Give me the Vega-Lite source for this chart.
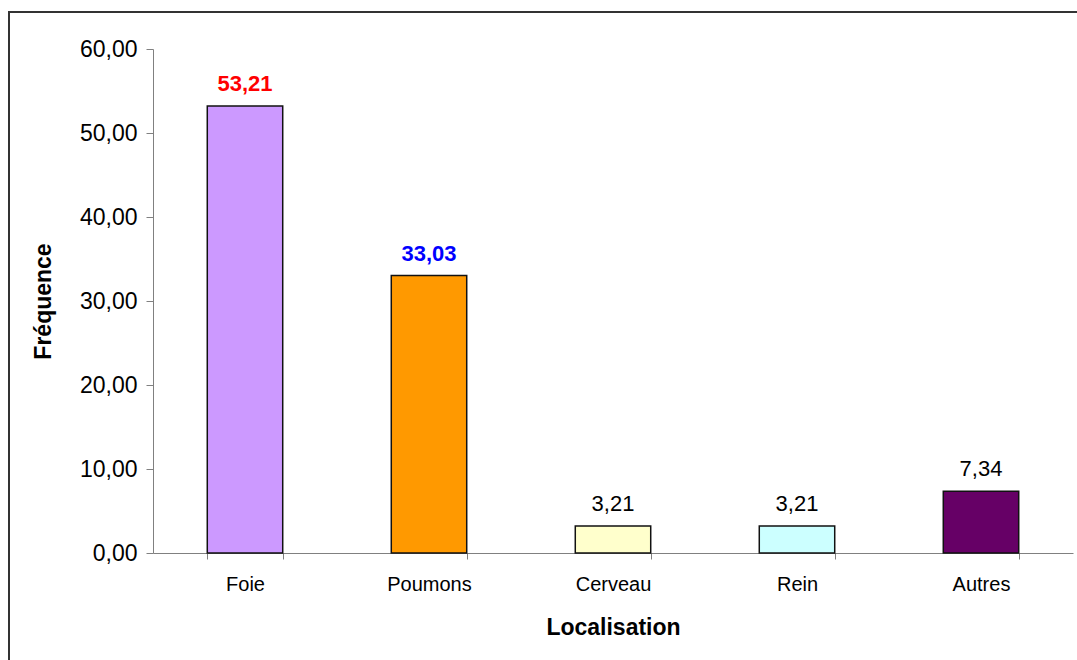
{
  "$schema": "https://vega.github.io/schema/vega-lite/v6.json",
  "autosize": {"type": "none"},
  "padding": {"left": 9, "top": 12, "right": 0, "bottom": 0},
  "width": 1075,
  "height": 655,
  "background": "white",
  "config": {
    "locale": {"number": {"decimal": ",", "thousands": " ", "grouping": [3], "currency": ["", " €"]}},
    "view": {"stroke": "#333333", "strokeWidth": 2},
    "font": "Liberation Sans"
  },
  "data": {
    "values": [
      {"loc": "Foie", "freq": 53.21},
      {"loc": "Poumons", "freq": 33.03},
      {"loc": "Cerveau", "freq": 3.21},
      {"loc": "Rein", "freq": 3.21},
      {"loc": "Autres", "freq": 7.34}
    ]
  },
  "encoding": {
    "x": {
      "field": "loc",
      "type": "nominal",
      "sort": null,
      "scale": {"type": "band", "range": [144, 1064], "paddingInner": 0.59, "paddingOuter": 0.295},
      "axis": {
        "title": "Localisation",
        "orient": "bottom",
        "offset": -114,
        "labelAngle": 0,
        "tickBand": "extent",
        "tickSize": 6,
        "tickColor": "#808080",
        "domainColor": "#808080",
        "labelFont": "Liberation Sans",
        "labelFontSize": 20,
        "labelColor": "#000000",
        "labelPadding": 15,
        "titleFont": "Liberation Sans",
        "titleFontSize": 23,
        "titleFontWeight": "bold",
        "titleColor": "#000000",
        "titlePadding": 22
      }
    },
    "y": {
      "field": "freq",
      "type": "quantitative",
      "scale": {"domain": [0, 60], "range": [541, 37], "nice": false},
      "axis": {
        "title": "Fréquence",
        "orient": "left",
        "offset": -144,
        "values": [0, 10, 20, 30, 40, 50, 60],
        "format": ".2f",
        "grid": false,
        "tickSize": 7,
        "tickColor": "#808080",
        "domainColor": "#808080",
        "labelFont": "Liberation Sans",
        "labelFontSize": 23,
        "labelColor": "#000000",
        "labelPadding": 9,
        "titleFont": "Liberation Sans",
        "titleFontSize": 23,
        "titleFontWeight": "bold",
        "titleColor": "#000000",
        "titlePadding": 24
      }
    }
  },
  "layer": [
    {
      "mark": {"type": "bar", "stroke": "#111111", "strokeWidth": 1.5},
      "encoding": {
        "color": {
          "field": "loc",
          "type": "nominal",
          "scale": {"domain": ["Foie", "Poumons", "Cerveau", "Rein", "Autres"], "range": ["#CC99FF", "#FF9900", "#FFFFCC", "#CCFFFF", "#660066"]},
          "legend": null
        }
      }
    },
    {
      "transform": [{"filter": "datum.loc === 'Foie' || datum.loc === 'Poumons'"}],
      "mark": {"type": "text", "baseline": "alphabetic", "dy": -15, "fontSize": 22, "fontWeight": "bold", "font": "Liberation Sans"},
      "encoding": {
        "text": {"field": "freq", "type": "quantitative", "format": ".2f"},
        "color": {"condition": {"test": "datum.loc === 'Foie'", "value": "#FF0000"}, "value": "#0000FF"}
      }
    },
    {
      "transform": [{"filter": "datum.loc !== 'Foie' && datum.loc !== 'Poumons'"}],
      "mark": {"type": "text", "baseline": "alphabetic", "dy": -15, "fontSize": 22, "color": "#000000", "font": "Liberation Sans"},
      "encoding": {
        "text": {"field": "freq", "type": "quantitative", "format": ".2f"}
      }
    }
  ]
}
